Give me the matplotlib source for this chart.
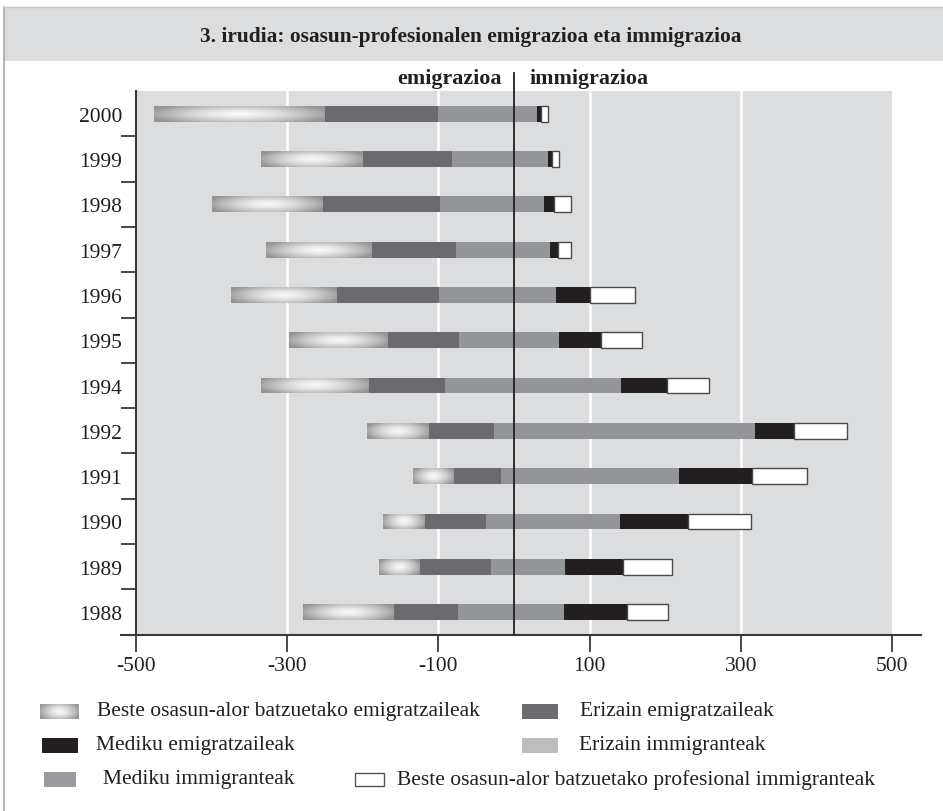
import numpy as np
import matplotlib
matplotlib.use("Agg")
import matplotlib.pyplot as plt
from matplotlib.patches import Rectangle
from matplotlib.lines import Line2D

plt.rcParams['font.family'] = ['Liberation Serif', 'DejaVu Serif']

years = ["2000", "1999", "1998", "1997", "1996", "1995", "1994", "1992", "1991", "1990", "1989", "1988"]
# emigration (left side), segments from zero outward
emig_inner = [101, 82, 98, 77, 99, 73, 91, 26, 17, 37, 31, 74]      # medium gray
emig_mid = [149, 118, 155, 112, 136, 95, 102, 86, 63, 81, 93, 85]    # dark gray
emig_outer = [226, 134, 146, 139, 139, 130, 142, 82, 54, 55, 54, 120]  # gradient
# immigration (right side), segments from zero outward
immig_inner = [31, 45, 40, 48, 55, 60, 141, 319, 218, 140, 67, 66]   # medium gray
immig_mid = [5, 5, 13, 10, 45, 55, 62, 52, 97, 90, 77, 84]           # black
immig_outer = [9, 10, 22, 17, 60, 54, 55, 70, 72, 84, 65, 54]        # white

xticks = [-500, -300, -100, 100, 300, 500]

title = "3. irudia: osasun-profesionalen emigrazioa eta immigrazioa"
legend_labels = ["Beste osasun-alor batzuetako emigratzaileak", "Erizain emigratzaileak",
                 "Mediku emigratzaileak", "Erizain immigranteak",
                 "Mediku immigranteak", "Beste osasun-alor batzuetako profesional immigranteak"]

BG = "#dcdddf"
DARK = "#6b6b6f"
MED = "#949599"
BLACK = "#231f20"
LIGHT = "#bcbdbf"
FS = 15.5

W, H = 943, 812
fig = plt.figure(figsize=(W / 100, H / 100), dpi=100)

def fx(px):
    return px / W

def fy(py):
    return 1 - py / H

# frame and title band
fig.add_artist(Rectangle((fx(4), fy(62)), fx(943) - fx(4), (62 - 8) / H,
                         transform=fig.transFigure, facecolor=BG, edgecolor="none"))
fig.add_artist(Line2D([fx(4), fx(4)], [fy(8), fy(812)], transform=fig.transFigure,
                      color="#a8a8a8", lw=1.2))
fig.add_artist(Line2D([fx(4), fx(943)], [fy(8), fy(8)], transform=fig.transFigure,
                      color="#c8c8c8", lw=1.0))
fig.text(fx(471), fy(37), title, ha="center", va="center", fontsize=15.4,
         fontweight="bold", color="#231f20")

ax = fig.add_axes([fx(136), fy(635.7), (892 - 136) / W, (635.7 - 92) / H])
ax.set_facecolor(BG)

n = len(years)
ypos = np.arange(n)[::-1]
h = 0.35

# gradient image (bright centre, grey edges)
u = np.linspace(-1, 1, 200)
v = np.linspace(-1, 1, 40)
U, V = np.meshgrid(u, v)
R = np.sqrt(U ** 2 + 0.6 * V ** 2)
grad = np.clip(0.97 - 0.33 * R ** 1.5, 0.58, 1)

ei = np.array(emig_inner)
em = np.array(emig_mid)
eo = np.array(emig_outer)
ii = np.array(immig_inner)
im_ = np.array(immig_mid)
io = np.array(immig_outer)

ax.barh(ypos, -ei, height=h, color=MED, zorder=3)
ax.barh(ypos, -em, left=-ei, height=h, color=DARK, zorder=3)
bars_g = ax.barh(ypos, -eo, left=-(ei + em), height=h, facecolor="none", edgecolor="none", zorder=3)
for b, y, l, w in zip(bars_g, ypos, -(ei + em), -eo):
    img = ax.imshow(grad, extent=[l + w, l, y - h / 2, y + h / 2], cmap="gray", vmin=0, vmax=1,
                    aspect="auto", interpolation="bilinear", zorder=3)
    img.set_clip_path(b)

ax.barh(ypos, ii, height=h, color=MED, zorder=3)
ax.barh(ypos, im_, left=ii, height=h, color=BLACK, zorder=3)
ax.barh(ypos, io, left=ii + im_, height=h, facecolor="white", edgecolor="#4a4a4a", lw=1.0, zorder=3)

ax.set_xlim(-500, 500)
ax.set_ylim(-0.5, n - 0.5)

for g in [-300, -100, 100, 300]:
    ax.axvline(g, color="white", lw=1.8, zorder=1)

# zero line extending above the plot
ax.plot([0, 0], [-0.5, n - 0.5 + (92 - 74) / 45.3], color=BLACK, lw=1.3, zorder=4, clip_on=False)

ax.text(-16, n - 0.5 + (92 - 79) / 45.3, "emigrazioa", ha="right", va="center",
        fontsize=15.8, fontweight="bold", color=BLACK)
ax.text(20, n - 0.5 + (92 - 79) / 45.3, "immigrazioa", ha="left", va="center",
        fontsize=15.8, fontweight="bold", color=BLACK)

for s in ["top", "right", "bottom"]:
    ax.spines[s].set_visible(False)
ax.spines["left"].set_color("#3a3a3a")
ax.spines["left"].set_linewidth(1.5)

ax.add_line(Line2D([(121 - 136) / 756, (921 - 136) / 756], [0, 0], transform=ax.transAxes,
                   color="#3a3a3a", lw=1.5, clip_on=False))

ax.set_xticks(xticks)
ax.set_xticklabels([str(t) for t in xticks], fontsize=FS, color=BLACK)
ax.tick_params(axis="x", length=12, width=1.3, color="#3a3a3a", pad=3)

ax.set_yticks(np.arange(-0.5, n - 1))
ax.set_yticklabels([])
ax.tick_params(axis="y", which="major", length=11, width=1.3, color="#3a3a3a")
ax.set_yticks(ypos, minor=True)
ax.set_yticklabels(years, minor=True, fontsize=FS, color=BLACK)
ax.tick_params(axis="y", which="minor", length=0, pad=10)

# legend
def swatch(x0, x1, yc, color=None, edge="none", gradient=False, hh=15):
    if gradient:
        sa = fig.add_axes([fx(x0), fy(yc + hh / 2), (x1 - x0) / W, hh / H])
        sa.imshow(grad, cmap="gray", vmin=0, vmax=1, aspect="auto", interpolation="bilinear")
        sa.axis("off")
    else:
        fig.add_artist(Rectangle((fx(x0), fy(yc + hh / 2)), (x1 - x0) / W, hh / H,
                                 transform=fig.transFigure, facecolor=color, edgecolor=edge, lw=1.0))

def ltext(x, yc, s):
    fig.text(fx(x), fy(yc), s, ha="left", va="center", fontsize=FS, color=BLACK)

swatch(40, 78, 712, gradient=True)
ltext(97, 712, legend_labels[0])
swatch(522, 558, 712, color=DARK)
ltext(580, 712, legend_labels[1])
swatch(42, 78, 746, color=BLACK)
ltext(96, 746, legend_labels[2])
swatch(522, 558, 746, color=LIGHT)
ltext(579, 746, legend_labels[3])
swatch(44, 76, 780, color="#9a9b9e")
ltext(103, 780, legend_labels[4])
swatch(355, 384, 780, color="white", edge="#555555", hh=13)
ltext(397, 780, legend_labels[5])

fig.savefig("out.png", dpi=100)
